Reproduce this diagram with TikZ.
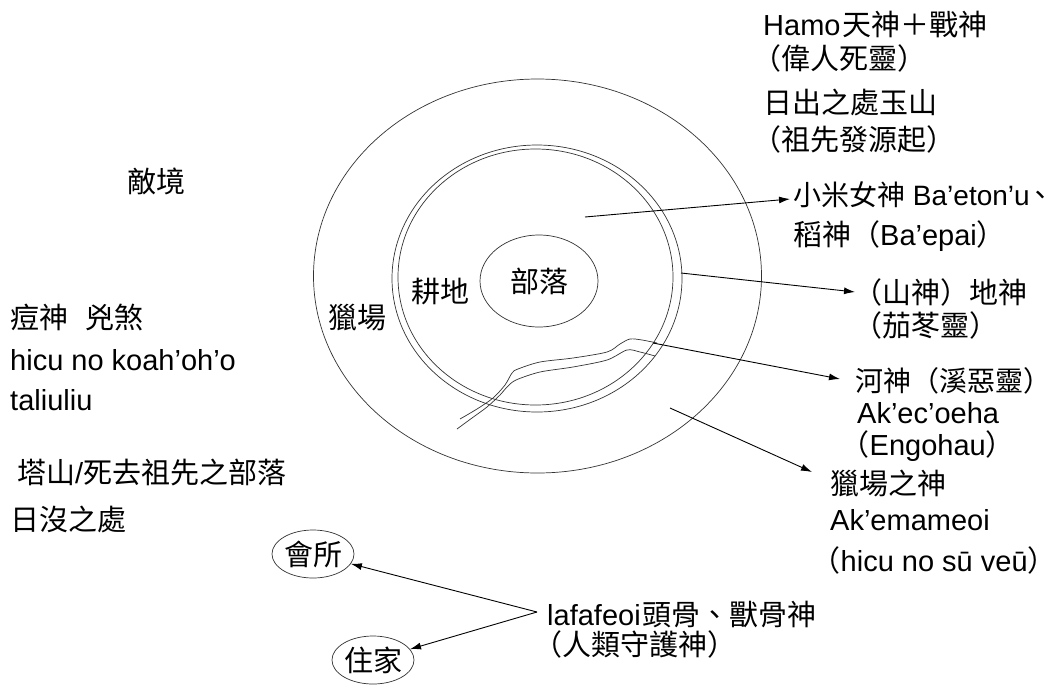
\documentclass[tikz,border=0pt]{standalone}
\usepackage{fontspec}
\setmainfont{Liberation Sans}
\newfontfamily\cjk{Noto Sans CJK TC}
\usetikzlibrary{shapes.geometric,arrows.meta}
\newcommand{\C}[1]{{\cjk #1}}
\newcommand{\lpn}{\makebox[0.5em][r]{\cjk （}}
\newcommand{\rpn}{\makebox[0.55em][l]{\cjk ）}}
\newcommand{\dun}{\makebox[0.5em][l]{\hspace{-0.1em}\cjk 、}}
\begin{document}
\begin{tikzpicture}[x=1pt,y=-1pt,
  lbl/.style={anchor=base west,inner sep=0pt,font=\fontsize{29}{34}\selectfont},
  lblS/.style={lbl,font=\fontsize{28}{33}\selectfont},
  ring/.style={draw=black!80,line width=0.7pt},
  oval/.style={draw=black!80,line width=0.7pt,ellipse,inner sep=0pt,font=\fontsize{29}{34}\selectfont\cjk},
  arr/.style={draw=black,line width=0.9pt,-{Latex[length=11pt,width=7pt]}}]
\fill[white] (0,0) rectangle (1055,686);
\useasboundingbox (0,0) rectangle (1055,686);
% rings
\draw[ring] (537.5,276) ellipse [x radius=224pt, y radius=197pt];
\draw[ring] (537,278.5) ellipse [x radius=145pt, y radius=133.5pt];
\draw[ring] (535.5,277) ellipse [x radius=137.5pt, y radius=128pt];
\node[oval,minimum width=118pt,minimum height=92pt] (tribe) at (539,281) {部落};
% river
\draw[ring] plot[smooth,tension=0.5] coordinates {(460,419) (477,409) (493,398) (505,385) (512,373) (518,369) (540,362) (573,358) (607,352) (620,344) (630,339) (642,340) (657,343)};
\draw[ring] plot[smooth,tension=0.5] coordinates {(457,429) (472,418) (487,407) (500,395) (507,387) (516,380) (540,372) (573,367) (607,360) (627,350) (640,352) (655,356)};
% ring labels
\node[lbl] (gengdi) at (411,302) {\C{耕地}};
\node[lbl] (liechang) at (328,328) {\C{獵場}};
% right column
\node[lbl] (hamo) at (763,35) {Hamo\hspace{2pt}\C{天神＋戰神}};
\node[lbl] (weiren) at (752,69) {\C{（偉人死靈）}};
\node[lbl] (richu) at (763,113) {\C{日出之處玉山}};
\node[lbl] (zuxian) at (752,150) {\C{（祖先發源起）}};
\node[lblS] (xiaomi) at (793,205) {\C{小米女神} Ba’eton’u\dun};
\node[lbl] (daoshen) at (793,245) {\C{稻神（}Ba’epai\rpn};
\node[lbl] (shan) at (853,303) {\C{（山神）地神}};
\node[lbl] (qiedong) at (853,336) {\C{（茄苳靈}\rpn};
\node[lblS] (heshen) at (855,391) {\C{河神（溪惡靈}\rpn};
\node[lbl] (akec) at (857,423) {Ak’ec’oeha};
\node[lbl] (engohau) at (855,455) {\lpn Engohau\rpn};
\node[lbl] (lcshen) at (830,494) {\C{獵場之神}};
\node[lbl] (akem) at (830,530) {Ak’emameoi};
\node[lbl] (hicuB) at (826,571) {\lpn hicu no sū veū\rpn};
% left column
\node[lbl] (diji) at (127,192) {\C{敵境}};
\node[lbl] (doushen) at (10,328) {\C{痘神}\hspace{17pt}\C{兇煞}};
\node[lbl] (hicuA) at (10,370) {hicu no koah’oh’o};
\node[lbl] (tali) at (10,410) {taliuliu};
\node[lbl] (tashan) at (17,483) {\C{塔山}/\C{死去祖先之部落}};
\node[lbl] (rimo) at (10,530) {\C{日沒之處}};
% bottom
\node[oval,minimum width=74pt,minimum height=48pt] (huisuo) at (313,554) {會所};
\node[oval,minimum width=76pt,minimum height=48pt] (zhujia) at (373,660) {住家};
\node[lbl] (lafa) at (547,625) {lafafeoi\hspace{2pt}\C{頭骨、獸骨神}};
\node[lbl] (renlei) at (533,655) {\C{（人類守護神}\rpn};
% arrows
\coordinate (s1) at (585,217);
\coordinate (s2) at (681,273);
\coordinate (s3) at (653,343);
\coordinate (s4) at (670,408);
\coordinate (v) at (537,612);
\draw[arr] (s1) -- ([xshift=-3pt,yshift=6pt]xiaomi.base west);
\draw[arr] (s2) -- ([xshift=2pt,yshift=11pt]shan.base west);
\draw[arr] (s3) -- ([xshift=-15pt,yshift=12pt]heshen.base west);
\draw[arr] (s4) -- ([xshift=-18pt,yshift=22pt]lcshen.base west);
\draw[arr] (v) -- (huisuo);
\draw[arr] (v) -- (zhujia);
\end{tikzpicture}
\end{document}
